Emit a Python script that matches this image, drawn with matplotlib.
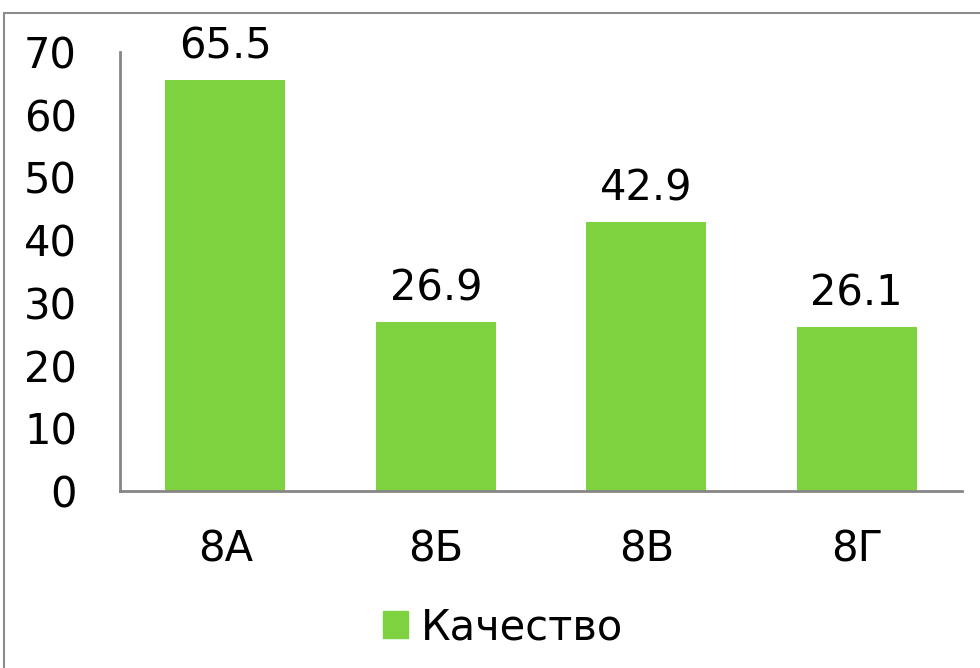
import matplotlib
matplotlib.use("Agg")
import matplotlib.pyplot as plt
from matplotlib.patches import Rectangle, Patch

categories = ["8А", "8Б", "8В", "8Г"]
values = [65.5, 26.9, 42.9, 26.1]
series_name = "Качество"
yticks = [0, 10, 20, 30, 40, 50, 60, 70]

plt.rcParams['font.family'] = ['DejaVu Sans']
W, H = 980, 668
fig = plt.figure(figsize=(W/100, H/100), dpi=100)
ax = fig.add_axes([120/W, 1-491/H, (962-120)/W, (491-52)/H])

FS = 30
color = "#7ED13F"
x = range(len(categories))
ax.bar(x, values, width=0.57, color=color, label=series_name)
for xi, v in zip(x, values):
    ax.annotate(f"{v}", (xi, v), xytext=(0, 9), textcoords="offset points",
                ha="center", va="bottom", fontsize=FS)

ax.set_xlim(-0.5, len(categories)-0.5)
ax.set_ylim(0, 70)
ax.set_yticks(yticks)
ax.set_xticks(list(x))
ax.set_xticklabels(categories)
ax.tick_params(axis='y', length=0, pad=31, labelsize=FS)
ax.tick_params(axis='x', length=0, pad=27, labelsize=FS)
for s in ["top", "right"]:
    ax.spines[s].set_visible(False)
for s in ["left", "bottom"]:
    ax.spines[s].set_color("#868686")
    ax.spines[s].set_linewidth(2)

fig.legend(handles=[Patch(color=color, label=series_name)],
           loc="center", bbox_to_anchor=(503/W, 1-627/H), frameon=False,
           fontsize=FS, handlelength=0.6, handleheight=0.6, handletextpad=0.33)

fig.patches.append(Rectangle((4/W, -0.1), 1.2, 1-13/H+0.1, transform=fig.transFigure,
                             fill=False, edgecolor="#8c8c8c", linewidth=1.5))

fig.savefig("out.png", dpi=100)
